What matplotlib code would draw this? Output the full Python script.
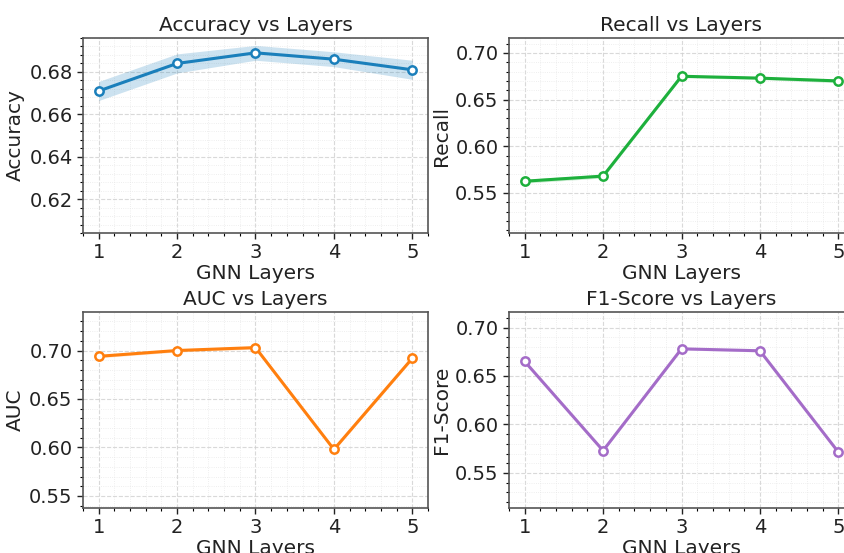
import matplotlib
matplotlib.use("Agg")
import matplotlib.pyplot as plt
import numpy as np
from matplotlib.ticker import AutoMinorLocator, MultipleLocator

# data
layers = [1, 2, 3, 4, 5]
accuracy = [0.671, 0.684, 0.689, 0.686, 0.681]
accuracy_std = [0.0045, 0.0045, 0.0035, 0.0035, 0.0045]
recall = [0.5625, 0.568, 0.675, 0.673, 0.670]
recall_std = [0.002, 0.002, 0.0015, 0.0015, 0.002]
auc = [0.694, 0.700, 0.703, 0.598, 0.692]
auc_std = [0.0015, 0.0015, 0.0015, 0.0015, 0.0015]
f1 = [0.665, 0.573, 0.678, 0.676, 0.5715]
f1_std = [0.0012, 0.0012, 0.0012, 0.0012, 0.0012]

panels = [
    ("Accuracy", accuracy, accuracy_std, "#1a7fbb", (0.604, 0.696), 0.02),
    ("Recall", recall, recall_std, "#1db03c", (0.507, 0.716), 0.05),
    ("AUC", auc, auc_std, "#ff7f0e", (0.5376, 0.7397), 0.05),
    ("F1-Score", f1, f1_std, "#a46cc8", (0.5138, 0.716), 0.05),
]

W, H = 845, 553
fig = plt.figure(figsize=(W / 100, H / 100), dpi=100)

# axes boxes in pixels: left, top, right, bottom (right column runs off the canvas)
boxes = [
    (83, 38, 428, 233),
    (509, 38, 854, 233),
    (83, 312, 428, 508),
    (509, 312, 854, 508),
]

for (name, vals, std, color, ylim, step), (l, t, r, b) in zip(panels, boxes):
    ax = fig.add_axes([l / W, 1 - b / H, (r - l) / W, (b - t) / H])
    vals = np.array(vals)
    std = np.array(std)
    ax.fill_between(layers, vals - std, vals + std, color=color, alpha=0.22, lw=0)
    ax.plot(layers, vals, color=color, lw=2.2, marker="o", ms=6,
            mfc="white", mec=color, mew=1.8, zorder=3)
    ax.set_xlim(0.8, 5.2)
    ax.set_ylim(*ylim)
    ax.set_xticks(layers)
    ax.yaxis.set_major_locator(MultipleLocator(step))
    ax.xaxis.set_minor_locator(AutoMinorLocator(5))
    ax.yaxis.set_minor_locator(AutoMinorLocator(5))
    ax.grid(which="major", ls="--", color="#d0d0d0", lw=0.8, alpha=0.8)
    ax.grid(which="minor", ls=":", color="#e0e0e0", lw=0.6, alpha=0.7)
    ax.set_axisbelow(True)
    ax.tick_params(labelsize=14, colors="#222222", length=4, width=1)
    ax.tick_params(which="minor", length=2, width=0.8)
    for s in ax.spines.values():
        s.set_color("#555555")
        s.set_linewidth(1.2)
    ax.set_title(f"{name} vs Layers", fontsize=14.5, color="#222222", pad=5)
    ax.set_xlabel("GNN Layers", fontsize=14.5, color="#222222", labelpad=1)
    ax.set_ylabel(name, fontsize=14.5, color="#222222", labelpad=3)

fig.savefig("out.png", dpi=100)
